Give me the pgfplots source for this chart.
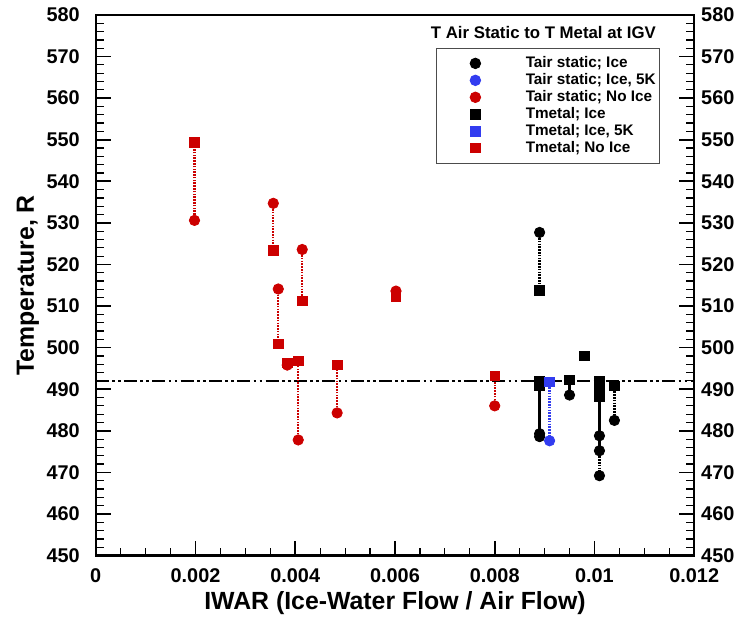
\documentclass[border=0pt]{standalone}
\usepackage{fontspec}
\setmainfont{Liberation Sans}
\usepackage{pgfplots}
\pgfplotsset{compat=1.18}
\definecolor{myred}{RGB}{204,0,0}
\definecolor{myblue}{RGB}{50,60,240}
\tikzset{
  reddot/.style={myred, line width=1.2bp, dash pattern=on 0.8bp off 0.6bp},
  bluedot/.style={myblue, line width=1.2bp, dash pattern=on 0.8bp off 0.6bp},
  blkdot/.style={black, line width=1.2bp, dash pattern=on 0.8bp off 0.6bp},
  blksol/.style={black, line width=1.2bp},
}
\begin{document}
\begin{tikzpicture}
\begin{axis}[name=main, at={(0,0)}, anchor=south west,
 scale only axis, width=300bp, height=271bp,
 xmin=0, xmax=0.012, ymin=450, ymax=580,
 scaled x ticks=false,
 xtick={0,0.002,0.004,0.006,0.008,0.01,0.012},
 xticklabels={0,0.002,0.004,0.006,0.008,0.01,0.012},
 minor x tick num=3,
 ytick={450,460,...,580},
 minor y tick num=4,
 xtick pos=bottom, ytick pos=both, yticklabel pos=left,
 tick align=inside,
 major tick length=7.5bp, minor tick length=4bp,
 every major tick/.style={line width=0.8bp, black},
 every minor tick/.style={line width=0.6bp, black},
 axis line style={line width=1.1bp},
 /pgf/number format/assume math mode=true,
 tick label style={font=\fontsize{10}{12}\selectfont\bfseries},
 xticklabel style={yshift=-3bp},
 yticklabel style={xshift=-4.5bp},
 xlabel={IWAR (Ice-Water Flow / Air Flow)},
 ylabel={Temperature, R},
 label style={font=\fontsize{12.5}{14}\selectfont\bfseries},
 xlabel style={at={(axis description cs:0.5,-0.0886)}, anchor=center},
 ylabel style={at={(axis description cs:-0.1133,0.5)}, anchor=center},
 legend style={at={(axis description cs:0.943,0.939)}, anchor=north east,
   draw=black!70, line width=0.5bp, inner xsep=2bp, inner ysep=3.75bp,
   font=\fontsize{7.7}{8.5}\selectfont\bfseries,
   nodes={inner sep=0bp, text height=5.8bp, text depth=1.7bp},
   row sep=1bp},
 legend cell align=left,
 legend image code/.code={\draw[#1] plot coordinates {(17bp,0bp)}; \path (0bp,0bp) (42bp,0bp);},
]
% reference line
\addplot[forget plot, black, line width=1bp, dash pattern=on 6.5bp off 1.7bp on 1.3bp off 1.7bp on 1.3bp off 1.7bp] coordinates {(0,492) (0.012,492)};
% connecting lines, no ice
\addplot[forget plot, reddot] coordinates {(0.00198,530.6) (0.00198,549.3)};
\addplot[forget plot, reddot] coordinates {(0.00356,534.7) (0.00356,523.4)};
\addplot[forget plot, reddot] coordinates {(0.00366,514.1) (0.00366,500.9)};
\addplot[forget plot, reddot] coordinates {(0.00414,523.6) (0.00414,511.2)};
\addplot[forget plot, reddot] coordinates {(0.00406,477.8) (0.00406,496.8)};
\addplot[forget plot, reddot] coordinates {(0.00484,484.3) (0.00484,495.8)};
\addplot[forget plot, reddot] coordinates {(0.0080,486.0) (0.0080,493.2)};
% connecting lines, ice
\addplot[forget plot, blkdot] coordinates {(0.0089,527.7) (0.0089,513.8)};
\addplot[forget plot, blksol] coordinates {(0.0089,491.9) (0.0089,478.6)};
\addplot[forget plot, bluedot] coordinates {(0.0091,491.8) (0.0091,477.6)};
\addplot[forget plot, blksol] coordinates {(0.0095,492.2) (0.0095,488.6)};
\addplot[forget plot, blksol] coordinates {(0.0101,491.9) (0.0101,475.2)};
\addplot[forget plot, blkdot] coordinates {(0.0101,475.2) (0.0101,469.2)};
\addplot[forget plot, blkdot] coordinates {(0.0104,490.8) (0.0104,482.5)};
% markers
\addplot[only marks, mark=*, mark size=2.6bp, black] coordinates {
 (0.0089,527.7) (0.0089,479.3) (0.0089,478.6) (0.0095,488.6)
 (0.0101,478.8) (0.0101,475.2) (0.0101,469.2) (0.0104,482.5)};
\addlegendentry{Tair static; Ice}
\addplot[only marks, mark=*, mark size=2.6bp, myblue] coordinates {(0.0091,477.6)};
\addlegendentry{Tair static; Ice, 5K}
\addplot[only marks, mark=*, mark size=2.6bp, myred] coordinates {
 (0.00198,530.6) (0.00356,534.7) (0.00366,514.1) (0.00414,523.6)
 (0.00384,495.8) (0.00406,477.8) (0.00484,484.3) (0.00602,513.6) (0.0080,486.0)};
\addlegendentry{Tair static; No Ice}
\addplot[only marks, mark=square*, mark size=2.4bp, black] coordinates {
 (0.0089,513.8) (0.0089,491.9) (0.0089,490.8) (0.0095,492.2) (0.0098,498.0)
 (0.0101,491.9) (0.0101,490.6) (0.0101,489.4) (0.0101,488.2) (0.0104,490.8)};
\addlegendentry{Tmetal; Ice}
\addplot[only marks, mark=square*, mark size=2.4bp, myblue] coordinates {(0.0091,491.8)};
\addlegendentry{Tmetal; Ice, 5K}
\addplot[only marks, mark=square*, mark size=2.4bp, myred] coordinates {
 (0.00198,549.3) (0.00356,523.4) (0.00366,500.9) (0.00414,511.2)
 (0.00384,496.3) (0.00406,496.8) (0.00484,495.8) (0.00602,512.2) (0.0080,493.2)};
\addlegendentry{Tmetal; No Ice}
\node[font=\fontsize{8.45}{10}\selectfont\bfseries] at (axis description cs:0.748,0.967) {T Air Static to T Metal at IGV};
\end{axis}
\begin{axis}[at={(0,0)}, anchor=south west,
 scale only axis, width=300bp, height=271bp,
 xmin=0, xmax=0.012, ymin=450, ymax=580,
 axis line style={draw=none}, xtick=\empty,
 ytick={450,460,...,580}, yticklabel pos=right,
 major tick length=0pt, tick style={draw=none},
 /pgf/number format/assume math mode=true,
 tick label style={font=\fontsize{10}{12}\selectfont\bfseries},
]
\end{axis}
\path ([shift={(-48bp,-32bp)}]main.south west) rectangle ([shift={(22.5bp,7.5bp)}]main.north east);
\end{tikzpicture}
\end{document}
